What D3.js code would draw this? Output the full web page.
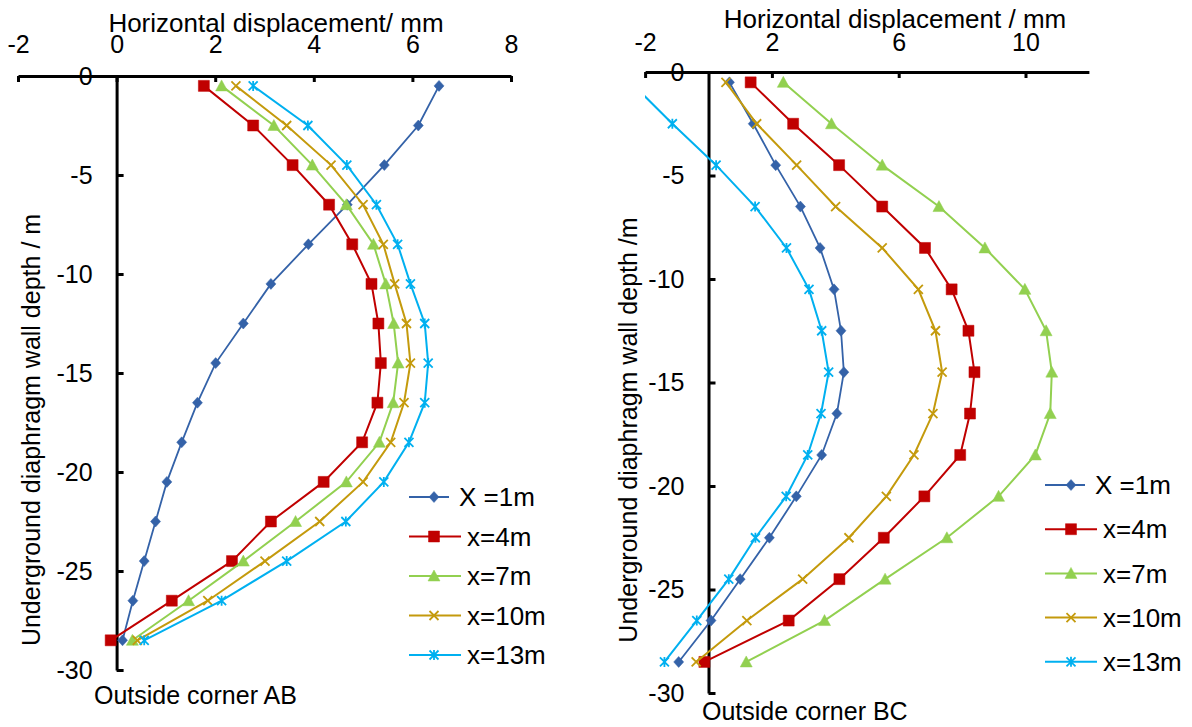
<!DOCTYPE html>
<html>
<head>
<meta charset="utf-8">
<script src="https://cdn.jsdelivr.net/npm/d3@7"></script>
<style>
  body { margin: 0; background: #fff; }
  text { font-family: "Liberation Sans", Arial, sans-serif; fill: #000; }
</style>
</head>
<body>
<script>
// depths of the measuring points (m)
const depth = [-0.5, -2.5, -4.5, -6.5, -8.5, -10.5, -12.5, -14.5, -16.5, -18.5, -20.5, -22.5, -24.5, -26.5, -28.5];
const seriesNames = ["X =1m", "x=4m", "x=7m", "x=10m", "x=13m"];

// outside corner AB, horizontal displacement (mm)
const abX1  = [6.54, 6.12, 5.43, 4.68, 3.89, 3.13, 2.57, 2.01, 1.64, 1.32, 1.02, 0.79, 0.56, 0.33, 0.12];
const abX4  = [1.77, 2.77, 3.57, 4.31, 4.78, 5.17, 5.31, 5.36, 5.29, 4.98, 4.20, 3.13, 2.34, 1.12, -0.12];
const abX7  = [2.13, 3.19, 3.97, 4.66, 5.21, 5.46, 5.62, 5.71, 5.61, 5.33, 4.66, 3.63, 2.57, 1.46, 0.32];
const abX10 = [2.42, 3.45, 4.35, 5.00, 5.41, 5.64, 5.88, 5.96, 5.83, 5.56, 5.00, 4.12, 3.01, 1.85, 0.42];
const abX13 = [2.77, 3.88, 4.67, 5.27, 5.70, 5.96, 6.25, 6.32, 6.25, 5.93, 5.42, 4.65, 3.45, 2.13, 0.56];

// outside corner BC
const bcX1  = [0.66, 1.41, 2.12, 2.90, 3.52, 3.96, 4.18, 4.27, 4.05, 3.57, 2.77, 1.92, 1.00, 0.08, -0.94];
const bcX4  = [1.33, 2.67, 4.12, 5.48, 6.83, 7.67, 8.20, 8.39, 8.25, 7.94, 6.81, 5.53, 4.13, 2.53, -0.13];
const bcX7  = [2.36, 3.88, 5.48, 7.27, 8.72, 9.98, 10.65, 10.83, 10.78, 10.31, 9.15, 7.52, 5.57, 3.66, 1.19];
const bcX10 = [0.55, 1.52, 2.78, 4.01, 5.48, 6.62, 7.16, 7.37, 7.08, 6.48, 5.61, 4.43, 2.97, 1.21, -0.39];
const bcX13 = [-2.45, -1.14, 0.24, 1.47, 2.46, 3.17, 3.57, 3.79, 3.55, 3.13, 2.45, 1.48, 0.64, -0.37, -1.39];

const xTicksAB = [-2, 0, 2, 4, 6, 8];
const xTicksBC = [-2, 2, 6, 10];
const yTicks = [0, -5, -10, -15, -20, -25, -30];

const colors  = ["#3462A8", "#C00000", "#92D050", "#C49A0C", "#00B0F0"];
const markers = ["diamond", "square", "triangle", "x", "star"];

const svg = d3.select("body").append("svg")
    .attr("width", 1192)
    .attr("height", 727)

// plain hyphen for negatives, like the original
const fmt = function(d) { return String(d) }

function markerPath(type) {
  if (type == "diamond") return "M0,-5.5L5,0L0,5.5L-5,0Z"
  if (type == "square") return "M-5.5,-5.5H5.5V5.5H-5.5Z"
  if (type == "triangle") return "M0,-6L6,5L-6,5Z"
  if (type == "x") return "M-4.5,-4.5L4.5,4.5M-4.5,4.5L4.5,-4.5"
  return "M-4.5,-4.5L4.5,4.5M-4.5,4.5L4.5,-4.5M0,-5V5"
}

function drawMarker(g, type, color, cx, cy) {
  var filled = (type == "diamond" || type == "square" || type == "triangle")
  g.append("path")
    .attr("transform", "translate(" + cx + "," + cy + ")")
    .attr("d", markerPath(type))
    .attr("fill", filled ? color : "none")
    .attr("stroke", color)
    .attr("stroke-width", filled ? 0.5 : 1.8)
}

function drawPanel(p) {
  var x = d3.scaleLinear().domain(p.xDomain).range(p.xRange)
  var y = d3.scaleLinear().domain([0, -30]).range(p.yRange)
  var g = svg.append("g")

  g.append("clipPath").attr("id", p.id)
    .append("rect")
    .attr("x", x(p.xDomain[0])).attr("y", 0)
    .attr("width", x(p.xDomain[1]) - x(p.xDomain[0]) + 20).attr("height", 727)

  // axes
  g.append("g")
    .attr("transform", "translate(0," + y(0) + ")")
    .call(d3.axisTop(x).tickValues(p.xTicks).tickFormat(fmt).tickSizeInner(-6).tickSizeOuter(0).tickPadding(p.xPad))
  g.append("g")
    .attr("transform", "translate(" + x(0) + ",0)")
    .call(d3.axisLeft(y).tickValues(yTicks).tickFormat(fmt).tickSizeInner(-7).tickSizeOuter(0).tickPadding(24))

  g.selectAll(".domain, .tick line").attr("stroke", "#000").attr("stroke-width", 3)
  g.selectAll(".tick text").attr("font-size", 25).attr("font-family", "Liberation Sans, Arial, sans-serif").attr("fill", "#000")

  // series
  var plot = g.append("g").attr("clip-path", "url(#" + p.id + ")")
  p.series.forEach(function(vals, i) {
    var pts = vals.map(function(v, j) { return [x(v), y(depth[j])] })
    plot.append("path")
      .attr("d", d3.line()(pts))
      .attr("fill", "none")
      .attr("stroke", colors[i])
      .attr("stroke-width", i == 0 ? 1.8 : 2)
    pts.forEach(function(pt) { drawMarker(plot, markers[i], colors[i], pt[0], pt[1]) })
  })

  // titles
  g.append("text")
    .attr("x", p.titleX).attr("y", p.titleY)
    .attr("text-anchor", "middle").attr("font-size", 26)
    .text(p.title)
  g.append("text")
    .attr("transform", "translate(" + p.yTitleX + "," + p.yTitleY + ") rotate(-90)")
    .attr("text-anchor", "middle").attr("font-size", 25)
    .text(p.yTitle)
  g.append("text")
    .attr("x", p.capX).attr("y", p.capY)
    .attr("font-size", 25)
    .text(p.caption)

  // legend
  var lg = g.append("g")
  seriesNames.forEach(function(name, i) {
    var ry = p.legY + i * p.legStep
    var x2 = i == 0 ? p.legX0 + p.legLen - 12 : p.legX0 + p.legLen
    lg.append("line")
      .attr("x1", p.legX0).attr("x2", x2).attr("y1", ry).attr("y2", ry)
      .attr("stroke", colors[i]).attr("stroke-width", 2)
    drawMarker(lg, markers[i], colors[i], p.legX0 + p.legMark, ry)
    lg.append("text")
      .attr("x", i == 0 ? p.legX0 + p.legLen - 2 : p.legX0 + p.legLen + 6)
      .attr("y", ry).attr("dy", "0.35em")
      .attr("font-size", 26)
      .style("white-space", "pre")
      .text(name)
  })
}

drawPanel({
  id: "clipAB",
  xDomain: [-2, 8], xRange: [18, 511], yRange: [76, 670], xTicks: xTicksAB, xPad: 23,
  series: [abX1, abX4, abX7, abX10, abX13],
  title: "Horizontal displacement/ mm", titleX: 276, titleY: 32,
  yTitle: "Underground diaphragm wall depth / m", yTitleX: 40, yTitleY: 430,
  caption: "Outside corner AB", capX: 94, capY: 704,
  legX0: 409, legLen: 52, legMark: 25, legY: 497, legStep: 39.5
})

drawPanel({
  id: "clipBC",
  xDomain: [-2, 12], xRange: [645.1, 1088.9], yRange: [72, 693], xTicks: xTicksBC, xPad: 21,
  series: [bcX1, bcX4, bcX7, bcX10, bcX13],
  title: "Horizontal displacement / mm", titleX: 895, titleY: 28,
  yTitle: "Underground diaphragm wall depth /m", yTitleX: 637, yTitleY: 430,
  caption: "Outside corner BC", capX: 702, capY: 720,
  legX0: 1045, legLen: 52, legMark: 26, legY: 485, legStep: 44.2
})
</script>
</body>
</html>
